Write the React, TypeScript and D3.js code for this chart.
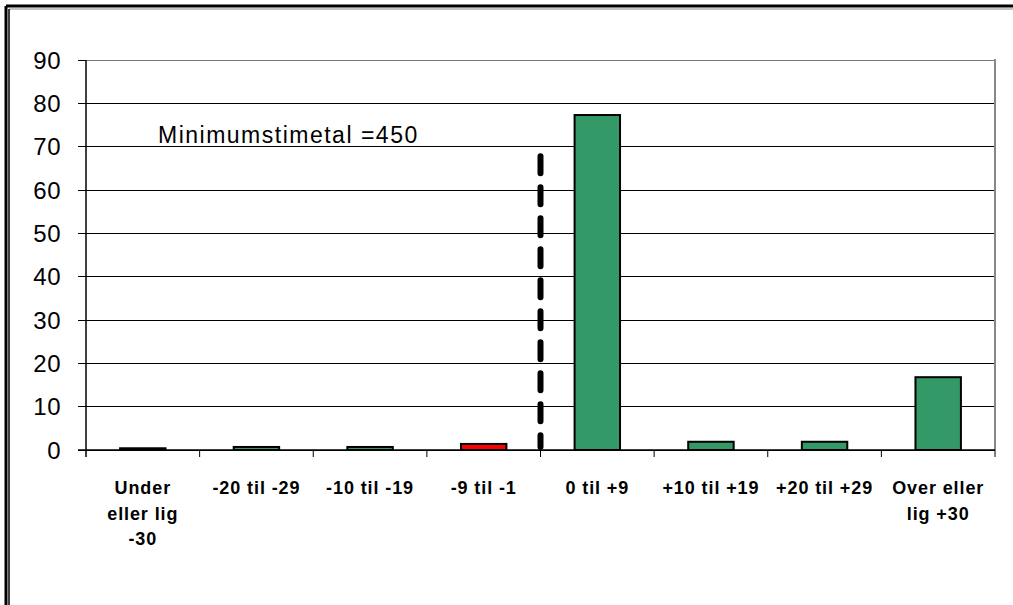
import React from "react";
import * as d3 from "d3";

const categories: string[][] = [
  ["Under", "eller lig", "-30"],
  ["-20 til -29"],
  ["-10 til -19"],
  ["-9 til -1"],
  ["0 til +9"],
  ["+10 til +19"],
  ["+20 til +29"],
  ["Over eller", "lig +30"],
];
const values: number[] = [0.4, 0.7, 0.7, 1.4, 77.3, 1.9, 1.9, 16.8];
const barColors: string[] = ["#339966", "#339966", "#339966", "#FF0000", "#339966", "#339966", "#339966", "#339966"];
const yTicks: number[] = [0, 10, 20, 30, 40, 50, 60, 70, 80, 90];
const annotation = "Minimumstimetal =450";
const dashedLineTop = 68.5;

export default function App() {
  const W = 1013, H = 605;
  const left = 86, right = 995, top = 60, bottom = 450;
  const x = d3.scaleBand<number>().domain(categories.map((_, i) => i)).range([left, right]).paddingInner(0.6).paddingOuter(0.3);
  const xb = d3.scaleBand<number>().domain(categories.map((_, i) => i)).range([left, right]);
  const y = d3.scaleLinear().domain([0, 90]).range([bottom, top]);
  const font = "Arial, 'Liberation Sans', Helvetica, sans-serif";
  const divX = xb(4)!;
  return (
    <svg width={W} height={H} style={{ position: "absolute", left: 0, top: 0, background: "#fff" }} fontFamily={font}>
      {/* outer frame */}
      <line x1={6} y1={6} x2={W} y2={6} stroke="#000" strokeWidth={3} />
      <line x1={6} y1={6} x2={6} y2={H} stroke="#000" strokeWidth={3} />
      <line x1={9} y1={9} x2={W} y2={9} stroke="#888" strokeWidth={1} />
      <line x1={9} y1={9} x2={9} y2={H} stroke="#000" strokeWidth={1.5} />
      {/* gridlines */}
      {yTicks.map((t) => (
        <line key={t} x1={left} x2={right} y1={y(t)} y2={y(t)} stroke={t === 90 ? "#777" : "#000"} strokeWidth={1} shapeRendering="crispEdges" />
      ))}
      {/* plot border right */}
      <line x1={right} x2={right} y1={top - 1} y2={bottom} stroke="#888" strokeWidth={2} />
      {/* y labels and ticks */}
      {yTicks.map((t) => (
        <g key={"yl" + t}>
          <line x1={left - 8} x2={left} y1={y(t)} y2={y(t)} stroke="#000" strokeWidth={1} shapeRendering="crispEdges" />
          <text x={61} y={y(t)} dy="0.36em" textAnchor="end" fontSize={24} letterSpacing={0.5} fill="#000">{t}</text>
        </g>
      ))}
      {/* bars */}
      {values.map((v, i) => (
        <rect key={i} x={x(i)!} width={x.bandwidth()} y={y(v)} height={y(0) - y(v)} fill={barColors[i]} stroke="#000" strokeWidth={2} />
      ))}
      {/* axes */}
      <line x1={left} x2={left} y1={top} y2={bottom + 7} stroke="#000" strokeWidth={1.5} />
      <line x1={left - 8} x2={right} y1={bottom} y2={bottom} stroke="#000" strokeWidth={1.5} />
      {categories.map((_, i) => (
        <line key={"xt" + i} x1={xb(i)! + xb.bandwidth()} x2={xb(i)! + xb.bandwidth()} y1={bottom} y2={bottom + 7} stroke="#000" strokeWidth={1} />
      ))}
      {/* x labels */}
      {categories.map((lines, i) => (
        <text key={"xl" + i} x={xb(i)! + xb.bandwidth() / 2} y={494} textAnchor="middle" fontSize={18} fontWeight="bold" letterSpacing={0.9} fill="#000">
          {lines.map((l, j) => (
            <tspan key={j} x={xb(i)! + xb.bandwidth() / 2} y={494 + j * 25.5}>{l}</tspan>
          ))}
        </text>
      ))}
      {/* dashed divider */}
      <line x1={divX} x2={divX} y1={y(dashedLineTop) + 3} y2={y(0) - 3} stroke="#000" strokeWidth={6} strokeDasharray="17,14" strokeLinecap="round" />
      {/* annotation */}
      <text x={158} y={143} fontSize={23} letterSpacing={1.5} fill="#000">{annotation}</text>
    </svg>
  );
}
